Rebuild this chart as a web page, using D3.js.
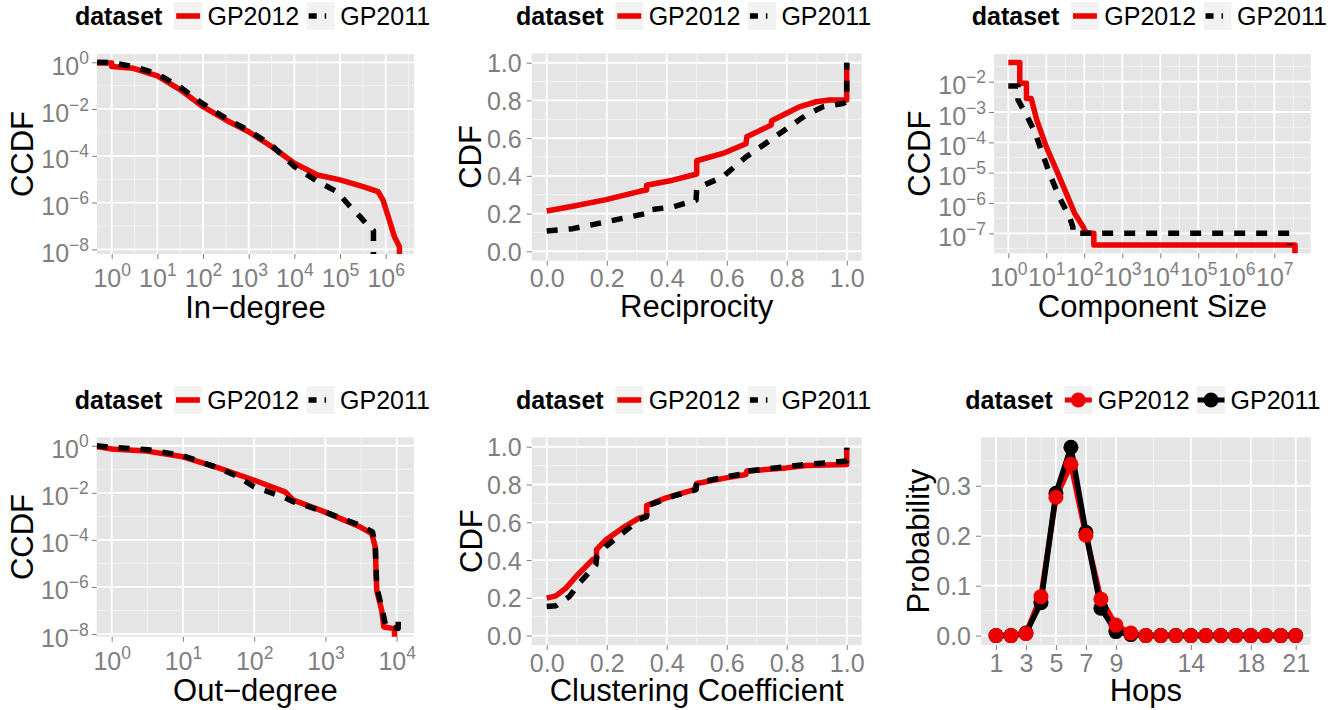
<!DOCTYPE html>
<html>
<head>
<meta charset="utf-8">
<script src="https://cdn.jsdelivr.net/npm/d3@7"></script>
<style>
  body { margin: 0; background: #fff; }
  svg { display: block; }
  text { font-family: "Liberation Sans", Arial, sans-serif; }
</style>
</head>
<body>
<svg id="chart" width="1344" height="710"></svg>
<script>
// series names and colours
const datasets = ["GP2012", "GP2011"];
const colour = { GP2012: "#ee0000", GP2011: "#000000" };

// In-degree CCDF
const inDegX2012 = [0.48, 1, 1, 3, 10, 32, 100, 316, 1000, 3160, 1e4, 3.2e4, 1e5, 3.2e5, 6.8e5, 8.7e5, 1.2e6, 1.55e6, 2e6, 2e6];
const inDegY2012 = [0.93, 0.93, 0.66, 0.55, 0.26, 0.066, 0.0126, 3.4e-3, 1.07e-3, 2.5e-4, 4.8e-5, 1.5e-5, 9.3e-6, 4.8e-6, 2.95e-6, 1.3e-6, 1.8e-7, 3.5e-8, 1.3e-8, 5e-9];
const inDegX2011 = [0.48, 1, 3, 10, 32, 87, 316, 1000, 3160, 1e4, 3.2e4, 8.5e4, 1.66e5, 2.75e5, 4.6e5, 5.4e5, 5.4e5];
const inDegY2011 = [1, 0.97, 0.65, 0.32, 0.085, 0.02, 4e-3, 1.2e-3, 2.9e-4, 3.5e-5, 8e-6, 2.95e-6, 6.8e-7, 2.5e-7, 7.9e-8, 6.3e-8, 5e-9];

// Reciprocity CDF
const recX2012 = [0, 0.087, 0.198, 0.31, 0.333, 0.333, 0.42, 0.5, 0.5, 0.587, 0.664, 0.667, 0.748, 0.75, 0.798, 0.842, 0.898, 0.942, 1, 1];
const recY2012 = [0.214, 0.239, 0.274, 0.318, 0.325, 0.35, 0.377, 0.41, 0.48, 0.519, 0.57, 0.607, 0.669, 0.692, 0.731, 0.766, 0.793, 0.802, 0.802, 1.0];
const recX2011 = [0, 0.087, 0.198, 0.33, 0.333, 0.42, 0.498, 0.5, 0.587, 0.664, 0.753, 0.809, 0.864, 0.92, 0.987, 1, 1];
const recY2011 = [0.108, 0.12, 0.156, 0.2, 0.218, 0.235, 0.271, 0.333, 0.395, 0.5, 0.598, 0.66, 0.722, 0.766, 0.784, 0.793, 1.0];

// Component size CCDF
const compX2012 = [1, 2, 2, 3, 3, 4, 5.6, 10, 18.6, 34, 56, 93, 112, 178, 178, 3.5e7, 3.5e7];
const compY2012 = [0.043, 0.043, 8.9e-3, 8.9e-3, 2.8e-3, 2.8e-3, 5.5e-4, 7.1e-5, 1.2e-5, 2e-6, 4.5e-7, 1.66e-7, 1e-7, 1e-7, 4.1e-8, 4.1e-8, 1e-8];
const compX2011 = [1, 1.8, 1.8, 3, 5, 7.6, 12.6, 23, 42, 50, 50, 2.57e7, 2.57e7];
const compY2011 = [7.2e-3, 7.2e-3, 2.5e-3, 7.9e-4, 2.2e-4, 4.9e-5, 8.3e-6, 1.4e-6, 3.2e-7, 1.6e-7, 1e-7, 1e-7, 4.1e-8];

// Out-degree CCDF
const outDegX2012 = [0.616, 1, 3.1, 10, 30, 98, 270, 355, 977, 3100, 4470, 5000, 5250, 6170, 6600, 9330, 9330];
const outDegY2012 = [0.93, 0.72, 0.59, 0.34, 0.12, 0.035, 0.011, 4.9e-3, 1.55e-3, 3.5e-4, 1.86e-4, 5e-5, 7.2e-7, 1e-7, 2e-8, 1.7e-8, 5e-9];
const outDegX2011 = [0.616, 1, 3.2, 10, 32, 58, 100, 270, 355, 1000, 3160, 4570, 5000, 5250, 6300, 7080, 10500, 10500];
const outDegY2011 = [1, 0.85, 0.68, 0.38, 0.11, 0.05, 0.018, 6.3e-3, 4.2e-3, 1.5e-3, 4e-4, 2.2e-4, 6.3e-5, 1e-6, 1e-7, 2e-8, 1.74e-8, 3.5e-8];

// Clustering coefficient CDF
const clusX2012 = [0, 0.031, 0.064, 0.098, 0.153, 0.166, 0.166, 0.198, 0.253, 0.309, 0.333, 0.333, 0.398, 0.492, 0.5, 0.598, 0.664, 0.667, 0.798, 0.864, 1, 1];
const clusY2012 = [0.198, 0.21, 0.251, 0.313, 0.402, 0.41, 0.455, 0.508, 0.57, 0.623, 0.632, 0.688, 0.729, 0.773, 0.805, 0.835, 0.853, 0.871, 0.888, 0.901, 0.906, 0.995];
const clusX2011 = [0, 0.031, 0.076, 0.109, 0.164, 0.167, 0.198, 0.253, 0.309, 0.333, 0.333, 0.42, 0.498, 0.5, 0.609, 0.667, 0.667, 0.798, 0.864, 1, 1];
const clusY2011 = [0.154, 0.158, 0.207, 0.278, 0.375, 0.42, 0.473, 0.543, 0.614, 0.63, 0.685, 0.738, 0.773, 0.809, 0.844, 0.86, 0.871, 0.894, 0.906, 0.924, 0.995];

// Hops distribution
const hops = [1, 2, 3, 4, 5, 6, 7, 8, 9, 10, 11, 12, 13, 14, 15, 16, 17, 18, 19, 20, 21];
const hopProb2012 = [0, 0, 0.004, 0.078, 0.277, 0.343, 0.201, 0.073, 0.021, 0.005, 0, 0, 0, 0, 0, 0, 0, 0, 0, 0, 0];
const hopProb2011 = [0, 0, 0.005, 0.066, 0.285, 0.377, 0.207, 0.055, 0.008, 0.002, 0, 0, 0, 0, 0, 0, 0, 0, 0, 0, 0];

// tick labels
const inDegTicks = [1, 10, 100, 1e3, 1e4, 1e5, 1e6];
const outDegTicks = [1, 10, 100, 1e3, 1e4];
const compTicks = [1, 10, 100, 1e3, 1e4, 1e5, 1e6, 1e7];
const ccdfTicks = [1, 1e-2, 1e-4, 1e-6, 1e-8];
const compCcdfTicks = [1e-2, 1e-3, 1e-4, 1e-5, 1e-6, 1e-7];
const cdfTicks = [0, 0.2, 0.4, 0.6, 0.8, 1.0];
const hopTicks = [1, 3, 5, 7, 9, 14, 18, 21];
const probTicks = [0, 0.1, 0.2, 0.3];

const svg = d3.select("#chart");
const TICK_FONT = 25, SUP_FONT = 17.5, TITLE_FONT = 31, LEGEND_FONT = 25;

const panels = [
  { left: 97, right: 414, top: 54, bottom: 254, xLog: true, yLog: true,
    xDomain: [0.477, 4.17e6], yDomain: [6.3e-9, 2.26], xTicks: inDegTicks, yTicks: ccdfTicks,
    xTitle: "In\u2212degree", yTitle: "CCDF", yTitleX: 33, legendY: 16,
    series: [[inDegX2012, inDegY2012], [inDegX2011, inDegY2011]] },
  { left: 531.7, right: 861.7, top: 53.3, bottom: 260.7, xLog: false, yLog: false,
    xDomain: [-0.05, 1.05], yDomain: [-0.05, 1.05], xTicks: cdfTicks, yTicks: cdfTicks,
    xTitle: "Reciprocity", yTitle: "CDF", yTitleX: 481, legendY: 16,
    series: [[recX2012, recY2012], [recX2011, recY2011]] },
  { left: 994, right: 1310.7, top: 54, bottom: 253.3, xLog: true, yLog: true,
    xDomain: [0.42, 9.08e7], yDomain: [2.2e-8, 0.0818], xTicks: compTicks, yTicks: compCcdfTicks,
    xTitle: "Component Size", yTitle: "CCDF", yTitleX: 930, legendY: 16,
    series: [[compX2012, compY2012], [compX2011, compY2011]] },
  { left: 96.7, right: 414, top: 437.3, bottom: 636.7, xLog: true, yLog: true,
    xDomain: [0.616, 17500], yDomain: [7.7e-9, 2.28], xTicks: outDegTicks, yTicks: ccdfTicks,
    xTitle: "Out\u2212degree", yTitle: "CCDF", yTitleX: 33, legendY: 400,
    series: [[outDegX2012, outDegY2012], [outDegX2011, outDegY2011]] },
  { left: 531.7, right: 861.7, top: 437.3, bottom: 645, xLog: false, yLog: false,
    xDomain: [-0.05, 1.05], yDomain: [-0.05, 1.05], xTicks: cdfTicks, yTicks: cdfTicks,
    xTitle: "Clustering Coefficient", yTitle: "CDF", yTitleX: 481.5, legendY: 400,
    series: [[clusX2012, clusY2012], [clusX2011, clusY2011]] },
  { left: 981, right: 1310.7, top: 437.3, bottom: 645, xLog: false, yLog: false,
    xDomain: [0, 22], yDomain: [-0.0188, 0.397], xTicks: hopTicks, yTicks: probTicks,
    xTitle: "Hops", yTitle: "Probability", yTitleX: 929, legendY: 400, points: true,
    xFormat: d3.format("d"),
    series: [[hops, hopProb2012], [hops, hopProb2011]] }
];

// ggplot style minor breaks: midpoints between major breaks
function minorBreaks(major, isLog, domain) {
  const t = isLog ? Math.log10 : (v => v);
  const inv = isLog ? (v => Math.pow(10, v)) : (v => v);
  const m = major.map(t).sort((a, b) => a - b);
  const ext = [m[0] - (m[1] - m[0]), ...m, m[m.length - 1] + (m[m.length - 1] - m[m.length - 2])];
  const lo = Math.min(...domain.map(t)), hi = Math.max(...domain.map(t));
  const out = [];
  for (let i = 0; i < ext.length - 1; i++) out.push((ext[i] + ext[i + 1]) / 2);
  return out.filter(v => v > lo && v < hi).map(inv);
}

function logLabel(text) {
  text.each(function(d) {
    const t = d3.select(this);
    const e = Math.round(Math.log10(d));
    t.text(null);
    t.append("tspan").text("10");
    t.append("tspan").attr("font-size", SUP_FONT).attr("dy", -11).text(e < 0 ? "\u2212" + (-e) : String(e));
  });
}

function drawLegend(cx, cy, points) {
  const g = svg.append("g");
  const title = g.append("text").attr("y", cy + 9).attr("font-size", LEGEND_FONT)
    .attr("font-weight", "bold").attr("fill", "#000").text("dataset");
  const tw = title.node().getComputedTextLength();
  const labels = datasets.map(name => g.append("text").attr("y", cy + 9)
    .attr("font-size", LEGEND_FONT).attr("fill", "#000").text(name));
  const lw = labels.map(l => l.node().getComputedTextLength());
  const key = 29;
  const total = tw + 11 + key + 5 + lw[0] + 7 + key + 5 + lw[1];
  let x = cx - total / 2;
  title.attr("x", x);
  x += tw + 11;
  datasets.forEach((name, i) => {
    g.append("rect").attr("x", x).attr("y", cy - key / 2).attr("width", key).attr("height", key)
      .attr("fill", "#f2f2f2").attr("stroke", "#fff").attr("stroke-width", 1);
    if (points) {
      g.append("line").attr("x1", x + 1).attr("x2", x + key - 1).attr("y1", cy).attr("y2", cy)
        .attr("stroke", colour[name]).attr("stroke-width", 5);
      g.append("circle").attr("cx", x + key / 2).attr("cy", cy).attr("r", 7.5).attr("fill", colour[name]);
    } else if (name === "GP2012") {
      g.append("line").attr("x1", x + 2.7).attr("x2", x + key - 2.4).attr("y1", cy).attr("y2", cy)
        .attr("stroke", colour[name]).attr("stroke-width", 5.5);
    } else {
      g.append("line").attr("x1", x + 2.5).attr("x2", x + 20).attr("y1", cy).attr("y2", cy)
        .attr("stroke", colour[name]).attr("stroke-width", 5.5).attr("stroke-dasharray", "8,8");
    }
    x += key + 5;
    labels[i].attr("x", x);
    x += lw[i] + 7;
  });
}

panels.forEach((p, idx) => {
  const x = (p.xLog ? d3.scaleLog() : d3.scaleLinear()).domain(p.xDomain).range([p.left, p.right]);
  const y = (p.yLog ? d3.scaleLog() : d3.scaleLinear()).domain(p.yDomain).range([p.bottom, p.top]);
  const g = svg.append("g");

  g.append("rect").attr("x", p.left).attr("y", p.top)
    .attr("width", p.right - p.left).attr("height", p.bottom - p.top).attr("fill", "#e5e5e5");

  // grid
  const grid = g.append("g");
  minorBreaks(p.xTicks, p.xLog, p.xDomain).forEach(v => {
    grid.append("line").attr("x1", x(v)).attr("x2", x(v)).attr("y1", p.top).attr("y2", p.bottom)
      .attr("stroke", "#f2f2f2").attr("stroke-width", 1);
  });
  minorBreaks(p.yTicks, p.yLog, p.yDomain).forEach(v => {
    grid.append("line").attr("y1", y(v)).attr("y2", y(v)).attr("x1", p.left).attr("x2", p.right)
      .attr("stroke", "#f2f2f2").attr("stroke-width", 1);
  });
  p.xTicks.forEach(v => {
    grid.append("line").attr("x1", x(v)).attr("x2", x(v)).attr("y1", p.top).attr("y2", p.bottom)
      .attr("stroke", "#fff").attr("stroke-width", 1.8);
  });
  p.yTicks.forEach(v => {
    grid.append("line").attr("y1", y(v)).attr("y2", y(v)).attr("x1", p.left).attr("x2", p.right)
      .attr("stroke", "#fff").attr("stroke-width", 1.8);
  });

  // axes
  const xAxis = g.append("g").attr("transform", `translate(0,${p.bottom})`)
    .call(d3.axisBottom(x).tickValues(p.xTicks).tickSize(5).tickPadding(3)
      .tickFormat(p.xLog ? null : (p.xFormat || d3.format(".1f"))));
  const yAxis = g.append("g").attr("transform", `translate(${p.left},0)`)
    .call(d3.axisLeft(y).tickValues(p.yTicks).tickSize(5).tickPadding(3)
      .tickFormat(p.yLog ? null : d3.format(".1f")));
  [xAxis, yAxis].forEach(a => {
    a.select(".domain").remove();
    a.attr("font-family", null).attr("font-size", TICK_FONT);
    a.selectAll(".tick line").attr("stroke", "#7f7f7f").attr("stroke-width", 1);
    a.selectAll(".tick text").attr("fill", "#7f7f7f");
  });
  if (p.xLog) {
    xAxis.selectAll(".tick text").call(logLabel).attr("y", 33).attr("dy", null);
  } else {
    xAxis.selectAll(".tick text").attr("y", 26.5).attr("dy", null);
  }
  if (p.yLog) {
    yAxis.selectAll(".tick text").call(logLabel).attr("y", 12).attr("dy", null).attr("x", -8);
  } else {
    yAxis.selectAll(".tick text").attr("y", 9).attr("dy", null).attr("x", -10);
  }

  // axis titles
  g.append("text").attr("x", (p.left + p.right) / 2).attr("y", p.bottom + (p.xLog ? 64 : 56))
    .attr("text-anchor", "middle").attr("font-size", TITLE_FONT).attr("fill", "#000").text(p.xTitle);
  g.append("text").attr("transform", `translate(${p.yTitleX},${(p.top + p.bottom) / 2}) rotate(-90)`)
    .attr("text-anchor", "middle").attr("font-size", TITLE_FONT).attr("fill", "#000").text(p.yTitle);

  // data
  const clipId = "clip" + idx;
  g.append("clipPath").attr("id", clipId).append("rect")
    .attr("x", p.left).attr("y", p.top).attr("width", p.right - p.left).attr("height", p.bottom - p.top);
  const marks = g.append("g").attr("clip-path", `url(#${clipId})`);
  const line = d3.line().x(d => x(d[0])).y(d => y(d[1]));

  const rows = p.series.map(s => d3.zip(s[0], s[1]));
  datasets.forEach((name, i) => {
    const path = marks.append("path").datum(rows[i]).attr("d", line).attr("fill", "none")
      .attr("stroke", colour[name]).attr("stroke-width", 5.5).attr("stroke-linejoin", "round");
    if (!p.points && name === "GP2011") path.attr("stroke-dasharray", "11,11");
  });
  if (p.points) {
    ["GP2011", "GP2012"].forEach(name => {
      const i = datasets.indexOf(name);
      marks.selectAll(null).data(rows[i]).enter().append("circle")
        .attr("cx", d => x(d[0])).attr("cy", d => y(d[1])).attr("r", 7.5).attr("fill", colour[name]);
    });
  }

  drawLegend((p.left + p.right) / 2 - 3, p.legendY, !!p.points);
});
</script>
</body>
</html>
